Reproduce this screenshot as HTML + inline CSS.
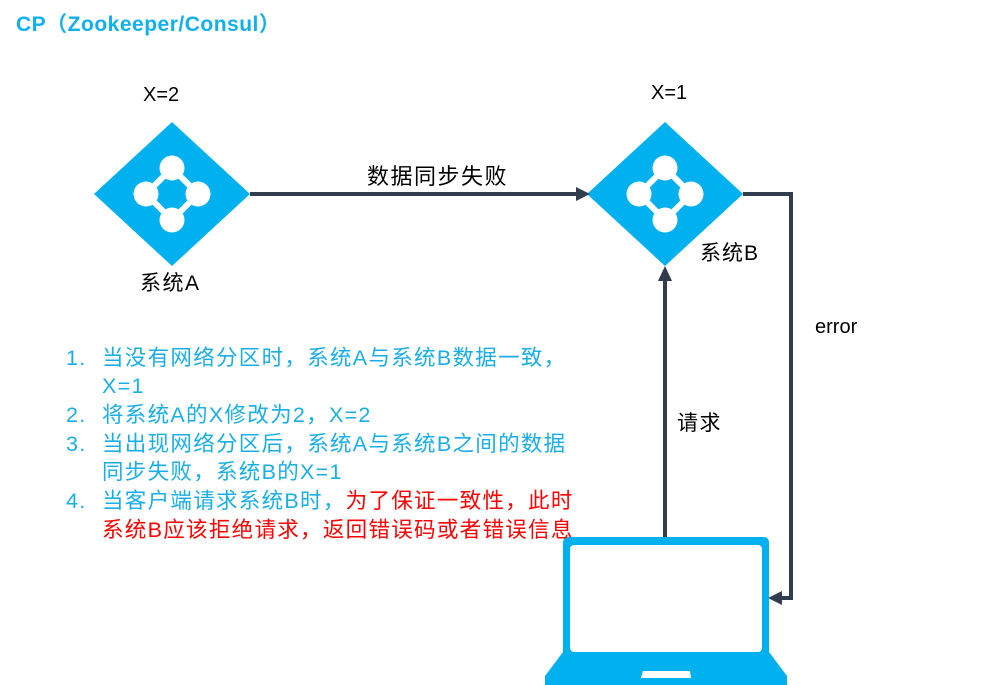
<!DOCTYPE html>
<html><head><meta charset="utf-8"><style>
body{margin:0;background:#fff;width:987px;height:685px;overflow:hidden;position:relative;font-family:"Liberation Sans","Noto Sans CJK SC",sans-serif}
.t{position:absolute;white-space:nowrap}
.l{position:absolute;white-space:nowrap;font-size:21.5px;color:#1aaee8;line-height:28px;letter-spacing:1.3px}
</style></head><body>
<div class="t" style="left:16px;top:8px;font-size:21px;font-weight:bold;color:#10b0ee;letter-spacing:0.5px">CP（Zookeeper/Consul）</div>
<svg width="987" height="685" style="position:absolute;left:0;top:0">
<defs>
<g id="ic">
<polygon points="0,-72 78,0 0,72 -78,0" fill="#00b0ef"/>
<polygon points="0,-26 26,0 0,26 -26,0" fill="none" stroke="#fff" stroke-width="6"/>
<circle cx="0" cy="-26" r="12.5" fill="#fff"/><circle cx="0" cy="26" r="12.5" fill="#fff"/>
<circle cx="-26" cy="0" r="12.5" fill="#fff"/><circle cx="26" cy="0" r="12.5" fill="#fff"/>
</g>
</defs>
<use href="#ic" x="172" y="194"/>
<use href="#ic" x="665" y="194"/>
<g stroke="#323c4c" stroke-width="4" fill="none">
<line x1="250" y1="194" x2="578" y2="194"/>
<line x1="665" y1="537" x2="665" y2="278"/>
<polyline points="743,194 791,194 791,598 780,598"/>
</g>
<g fill="#323c4c">
<polygon points="590,194 576,187 576,201"/>
<polygon points="665,266 658,281 672,281"/>
<polygon points="768,598 782,591 782,605"/>
</g>
<rect x="563" y="537" width="206" height="120" rx="5" fill="#00b0ef"/>
<rect x="570" y="545" width="192" height="107" rx="4" fill="#fff"/>
<polygon points="563,652 769,652 787,676 787,685 545,685 545,676" fill="#00b0ef"/>
<polygon points="643,671 690,671 691,678 641,678" fill="#fff"/>
</svg>
<div class="t" style="left:143px;top:84px;font-size:20px">X=2</div>
<div class="t" style="left:651px;top:82px;font-size:20px">X=1</div>
<div class="t" style="left:367px;top:159px;font-size:22px;letter-spacing:1.5px">数据同步失败</div>
<div class="t" style="left:140px;top:267px;font-size:21px;letter-spacing:1.5px">系统A</div>
<div class="t" style="left:700px;top:237px;font-size:21px;letter-spacing:1px">系统B</div>
<div class="t" style="left:815px;top:316px;font-size:20px">error</div>
<div class="t" style="left:677px;top:407px;font-size:21px;letter-spacing:1.5px">请求</div>
<div class="l" style="left:66px;top:344px">1.</div><div class="l" style="left:102px;top:344px">当没有网络分区时，系统A与系统B数据一致，</div>
<div class="l" style="left:102px;top:372px">X=1</div>
<div class="l" style="left:66px;top:401px">2.</div><div class="l" style="left:102px;top:401px">将系统A的X修改为2，X=2</div>
<div class="l" style="left:66px;top:430px">3.</div><div class="l" style="left:102px;top:430px">当出现网络分区后，系统A与系统B之间的数据</div>
<div class="l" style="left:102px;top:458px">同步失败，系统B的X=1</div>
<div class="l" style="left:66px;top:487px">4.</div><div class="l" style="left:102px;top:487px">当客户端请求系统B时，<span style="color:#f00">为了保证一致性，此时</span></div>
<div class="l" style="left:102px;top:516px;color:#f00">系统B应该拒绝请求，返回错误码或者错误信息</div>
</body></html>
